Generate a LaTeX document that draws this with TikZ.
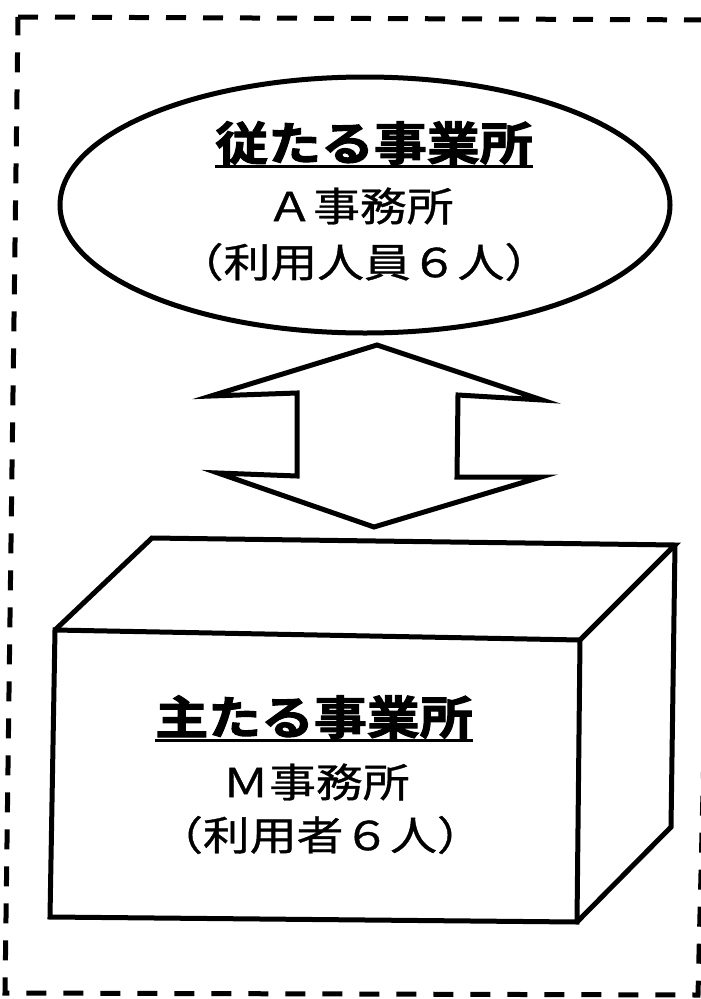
\documentclass[tikz,border=0pt]{standalone}
\usepackage{fontspec}
\newfontfamily\cjk[FakeBold=0.8]{Noto Sans CJK JP}
\newfontfamily\cjkheavy[FakeBold=2.2]{Noto Sans CJK JP Bold}
\begin{document}
\begin{tikzpicture}[x=1pt,y=-1pt,
  outline/.style={line width=5pt,line join=miter,draw=black},
  border/.style={line width=5pt,dash pattern=on 20pt off 17pt},
  titletext/.style={font=\cjkheavy\fontsize{46}{46}\selectfont,inner sep=0pt,xscale=1.15},
  bodytext/.style={font=\cjk\fontsize{40}{40}\selectfont,inner sep=0pt,xscale=1.17},
  uline/.style={line width=3pt}]
\useasboundingbox (0,0) rectangle (701,999);
% dashed frame
\draw[border] (18,17) -- (722,20) -- (698,995) -- (5,993) -- cycle;
% ellipse
\draw[outline] (365,205) ellipse [x radius=305, y radius=128];
\node[titletext] (t1) at (374,143) {従たる事業所};
\draw[uline] ([yshift=-2pt]t1.south west) -- ([yshift=-2pt]t1.south east);
\node[bodytext] (a1) at (360,206) {Ａ事務所};
\node[bodytext] (a2) at (364,262) {（利用人員６人）};
% double arrow
\draw[outline] (377,345) -- (542,400) -- (458,395) -- (457,477) -- (541,477)
  -- (374,527) -- (218,473) -- (297,476) -- (297,393) -- (211,396) -- cycle;
% box
\draw[outline] (55,630) -- (580,640) -- (577,922) -- (50,917) -- cycle;
\draw[outline] (55,630) -- (152,538) -- (675,545) -- (580,640);
\draw[outline] (675,545) -- (671,827) -- (577,922);
\node[titletext] (t2) at (314,717) {主たる事業所};
\draw[uline] ([yshift=-2pt]t2.south west) -- ([yshift=-2pt]t2.south east);
\node[bodytext] (m1) at (316,782) {Ｍ事務所};
\node[bodytext] (m2) at (320,835) {（利用者６人）};
\end{tikzpicture}
\end{document}
